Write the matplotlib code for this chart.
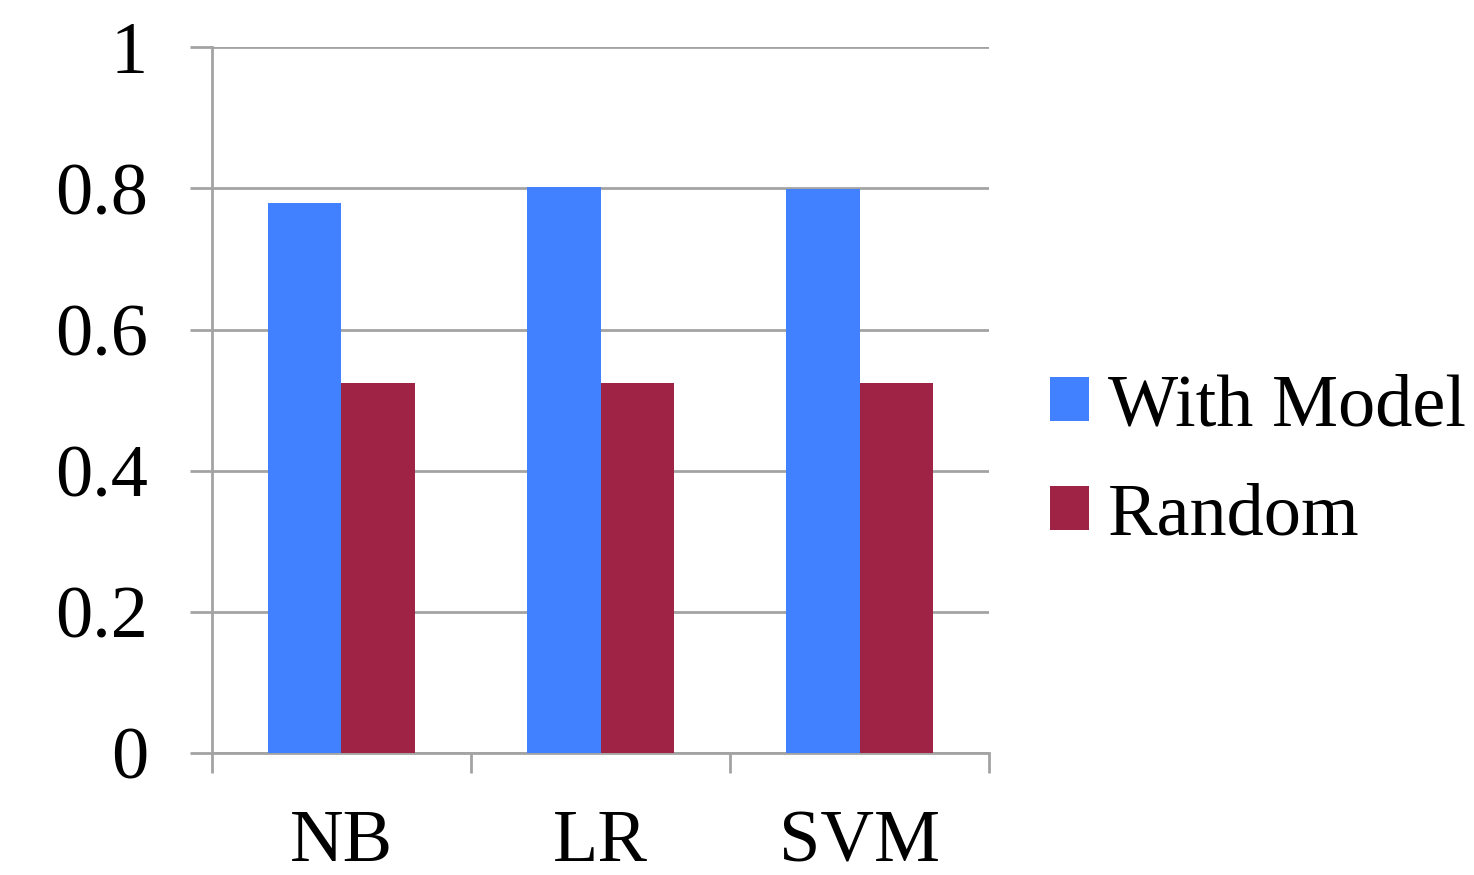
import numpy as np
import matplotlib
matplotlib.use("Agg")
from matplotlib import pyplot as plt

categories = ["NB", "LR", "SVM"]
with_model = [0.779, 0.802, 0.799]
random_base = [0.524, 0.524, 0.524]
series_names = ["With Model", "Random"]
y_ticks = [0, 0.2, 0.4, 0.6, 0.8, 1]
y_tick_labels = ["0", "0.2", "0.4", "0.6", "0.8", "1"]

blue = "#4181FF"
red = "#9E2344"
grey = "#A3A3A3"

plt.rcParams["font.family"] = ["Liberation Serif", "DejaVu Serif"]

fig = plt.figure(figsize=(14.74, 8.75), dpi=100)
ax = fig.add_axes([0.1438, 0.1394, 0.671 - 0.1438, 0.946 - 0.1394])

x = np.arange(len(categories))
w = 0.285
ax.bar(x - w / 2, with_model, w, color=blue, label=series_names[0], zorder=3)
ax.bar(x + w / 2, random_base, w, color=red, label=series_names[1], zorder=3)

ax.set_xlim(-0.5, len(categories) - 0.5)
ax.set_ylim(0, 1)

# gridlines + y ticks
ax.set_yticks(y_ticks)
ax.set_yticklabels(y_tick_labels)
ax.yaxis.grid(True, color=grey, linewidth=2, zorder=0)
ax.tick_params(axis="y", length=16, width=2, color=grey, pad=30, labelsize=53.5)

# category labels at centres, tick marks at boundaries
ax.set_xticks(x)
ax.set_xticklabels(categories)
ax.set_xticks(np.arange(-0.5, len(categories)), minor=True)
ax.tick_params(axis="x", which="major", length=0, pad=41, labelsize=53.5)
ax.tick_params(axis="x", which="minor", length=14.5, width=2, color=grey)

for s in ["top", "right"]:
    ax.spines[s].set_visible(False)
for s in ["left", "bottom"]:
    ax.spines[s].set_color(grey)
    ax.spines[s].set_linewidth(2)

leg = ax.legend(loc="center left", bbox_to_anchor=(0.7125, 0.472),
                bbox_transform=fig.transFigure, frameon=False, fontsize=53.5,
                handlelength=0.52, handleheight=0.52, handletextpad=0.26,
                labelspacing=0.56, borderpad=0, borderaxespad=0)

fig.savefig("out.png", dpi=100)
